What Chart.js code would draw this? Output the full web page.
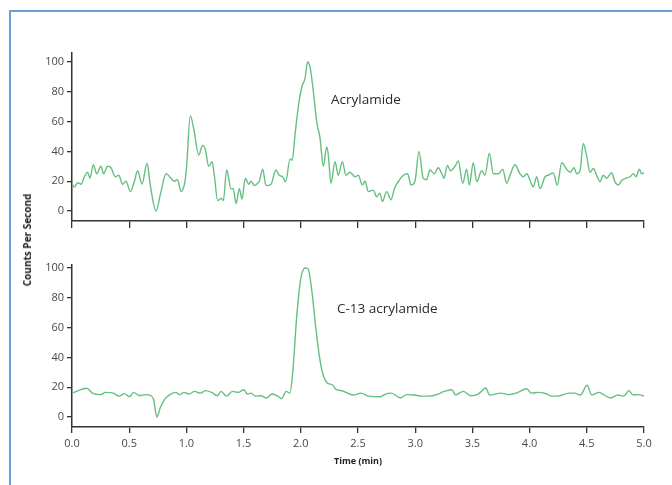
<!DOCTYPE html>
<html>
<head>
<meta charset="utf-8">
<script src="https://cdn.jsdelivr.net/npm/chart.js@4.4.1/dist/chart.umd.min.js"></script>
<style>
  html, body { margin: 0; padding: 0; background: #ffffff; }
  #wrap { position: relative; width: 672px; height: 485px; overflow: hidden; background: #fff; }
  #frame { position: absolute; left: 9px; top: 10px; right: -5px; bottom: -5px;
           border-left: 2px solid #6a9fd8; border-top: 2px solid #6a9fd8; }
  .cv { position: absolute; left: 0; }
  #ylab { position: absolute; left: 27px; top: 240px; transform: translate(-50%, -50%) rotate(-90deg);
          font-family: "Open Sans", "Noto Sans", sans-serif; font-weight: bold; font-size: 10px;
          color: #222; white-space: nowrap; }
</style>
</head>
<body>
<div id="wrap">
  <div id="frame"></div>
  <canvas id="top" class="cv" width="672" height="240" style="top:0px"></canvas>
  <canvas id="bot" class="cv" width="672" height="245" style="top:240px"></canvas>
  <div id="ylab">Counts Per Second</div>
</div>
<script>
// ---------- data ----------
const xTickValues = [0, 0.5, 1.0, 1.5, 2.0, 2.5, 3.0, 3.5, 4.0, 4.5, 5.0];
const yTickValues = [0, 20, 40, 60, 80, 100];
const yAxisTitle = "Counts Per Second";
const xAxisTitle = "Time (min)";
const topLabel = "Acrylamide";
const bottomLabel = "C-13 acrylamide";

// Acrylamide trace (time in min, counts)
const topTimes = [
  0.00, 0.02, 0.05, 0.08, 0.108, 0.137, 0.157, 0.186, 0.216, 0.253, 0.276, 0.312, 0.341, 0.379, 0.408,
  0.443, 0.472, 0.51, 0.545, 0.574, 0.612, 0.656, 0.685, 0.734, 0.778, 0.822, 0.865, 0.894, 0.923, 0.953,
  0.988, 1.002, 1.034, 1.069, 1.107, 1.142, 1.166, 1.195, 1.224, 1.244, 1.273, 1.302, 1.323, 1.352, 1.39,
  1.41, 1.434, 1.463, 1.486, 1.515, 1.545, 1.565, 1.594, 1.614, 1.637, 1.667, 1.696, 1.74, 1.783, 1.81,
  1.84, 1.868, 1.906, 1.925, 1.949, 1.984, 2.008, 2.037, 2.06, 2.08, 2.11, 2.139, 2.168, 2.197, 2.226,
  2.24, 2.264, 2.299, 2.328, 2.363, 2.395, 2.43, 2.474, 2.503, 2.538, 2.561, 2.59, 2.634, 2.663, 2.692,
  2.713, 2.75, 2.789, 2.818, 2.853, 2.896, 2.934, 2.963, 2.998, 3.033, 3.07, 3.1, 3.129, 3.167, 3.202,
  3.232, 3.252, 3.281, 3.31, 3.348, 3.377, 3.415, 3.45, 3.473, 3.508, 3.538, 3.581, 3.61, 3.648, 3.683,
  3.727, 3.765, 3.8, 3.829, 3.872, 3.916, 3.945, 3.975, 4.003, 4.032, 4.062, 4.091, 4.135, 4.163, 4.207,
  4.242, 4.281, 4.324, 4.353, 4.388, 4.412, 4.441, 4.469, 4.499, 4.528, 4.557, 4.586, 4.615, 4.644, 4.674,
  4.717, 4.746, 4.776, 4.805, 4.843, 4.878, 4.907, 4.93, 4.959, 4.98, 5.0
];
const topCounts = [
  18.6, 16, 19, 18, 23, 26, 22, 31, 25, 30, 25, 30, 29, 23, 24,
  18, 20, 13, 20, 27, 18, 32, 17, 0, 13, 25, 22, 20, 21, 13,
  20, 30, 64, 53, 37.6, 44, 41, 30, 33, 24, 7, 8.5, 7, 27.5, 15,
  15, 5, 15, 8, 22, 18, 20, 17, 18, 20, 28, 17, 18, 27.5, 24,
  23, 19.7, 35, 34, 51, 73, 83, 89, 100, 97, 80, 60, 49, 30, 43,
  38, 18.6, 33, 24, 33, 24, 26, 23, 24, 17.4, 20, 13, 14, 9.6, 12,
  6.3, 13, 7.6, 15, 19.8, 24, 25, 17.4, 20, 40, 22, 21, 27.5, 25, 29,
  25, 22, 30.6, 27, 30, 33.5, 18.6, 28, 17.4, 32.4, 19.7, 27, 24, 38.7, 25,
  25, 28, 18.6, 24, 31, 25, 23, 25, 20.8, 16.3, 23, 15, 23, 24, 25.5,
  17.4, 32.4, 28, 26, 29, 25, 27, 45.4, 37, 26, 28.5, 24, 19.7, 24, 22,
  25.7, 19.7, 17.4, 20.5, 22, 23, 25, 23, 28, 25, 25.7
];

// C-13 acrylamide trace (time in min, counts)
const bottomTimes = [
  0.0, 0.129, 0.179, 0.245, 0.295, 0.361, 0.411, 0.46, 0.503, 0.536, 0.592, 0.642, 0.691, 0.714, 0.741,
  0.774, 0.814, 0.857, 0.906, 0.94, 0.979, 1.022, 1.072, 1.121, 1.171, 1.22, 1.27, 1.303, 1.352, 1.402,
  1.452, 1.502, 1.534, 1.567, 1.6, 1.65, 1.7, 1.749, 1.799, 1.832, 1.872, 1.905, 1.931, 1.964, 1.997,
  2.037, 2.063, 2.096, 2.13, 2.163, 2.196, 2.229, 2.278, 2.311, 2.361, 2.46, 2.526, 2.593, 2.691, 2.741,
  2.791, 2.873, 2.923, 2.99, 3.055, 3.121, 3.187, 3.253, 3.32, 3.353, 3.419, 3.485, 3.551, 3.617, 3.65,
  3.749, 3.816, 3.882, 3.975, 4.014, 4.08, 4.146, 4.196, 4.246, 4.345, 4.394, 4.444, 4.503, 4.543, 4.609,
  4.642, 4.708, 4.774, 4.824, 4.867, 4.907, 4.956, 5.0
];
const bottomCounts = [
  16, 19.3, 16, 15, 16.5, 16, 14, 15.7, 13.6, 16.5, 14.3, 15, 14.3, 11.6, 0,
  6.7, 12.3, 15, 16.5, 15, 16.5, 15.4, 17.2, 16, 17.7, 16.5, 14.3, 17.2, 14, 17.2,
  16.5, 18.3, 15.4, 16, 14, 14.3, 12.8, 15.4, 14, 12.3, 17.2, 16, 31.5, 67, 91.5,
  100, 99.5, 85, 60.6, 40.5, 28, 23, 21.5, 18.3, 17.6, 14.8, 16, 14, 13.6, 15.4,
  16, 12.8, 15, 14.8, 14, 14, 15, 17.2, 18.3, 14.8, 17.2, 14.3, 15.4, 19.5, 14.8,
  16, 15, 16, 19, 16, 16.5, 15.6, 14, 14, 16, 16, 14.8, 21.3, 14.8, 16.5,
  15.2, 12.8, 14.8, 14, 17.7, 14.8, 15, 14
];

// ---------- chart construction ----------
const FONT = '"Open Sans", "Noto Sans", sans-serif';
const AXIS = '#333333';
const LINE = '#66bf80';

function pts(xs, ys) { return xs.map((x, i) => ({ x: x, y: ys[i] })); }

function labelPlugin(text, tx, ty) {
  return {
    id: 'peakLabel',
    afterDatasetsDraw(chart) {
      const ctx = chart.ctx;
      const px = chart.scales.x.getPixelForValue(tx);
      const py = chart.scales.y.getPixelForValue(ty);
      ctx.save();
      ctx.font = '13.5px ' + FONT;
      ctx.fillStyle = '#2b2b2b';
      ctx.textAlign = 'left';
      ctx.textBaseline = 'middle';
      ctx.fillText(text, px, py);
      ctx.restore();
    }
  };
}

function makeChart(id, xs, ys, opts) {
  return new Chart(document.getElementById(id), {
    type: 'line',
    data: { datasets: [{
      data: pts(xs, ys),
      borderColor: LINE,
      borderWidth: 1.4,
      pointRadius: 0,
      fill: false,
      cubicInterpolationMode: 'monotone',
      tension: 0.4
    }]},
    options: {
      responsive: false,
      animation: false,
      devicePixelRatio: 1,
      layout: { padding: { left: 0, right: 28, top: opts.padTop, bottom: 0 } },
      plugins: { legend: { display: false }, tooltip: { enabled: false } },
      scales: {
        x: {
          type: 'linear',
          min: 0, max: 5,
          afterBuildTicks: s => { s.ticks = xTickValues.map(v => ({ value: v })); },
          afterFit: s => { s.height = opts.xHeight; },
          border: { display: true, color: AXIS, width: 1.5 },
          grid: { drawOnChartArea: false, drawTicks: true, tickLength: opts.xTickLen, color: AXIS, lineWidth: 1.3 },
          ticks: {
            padding: 4,
            color: '#4a4a4a',
            font: { family: FONT, size: 11 },
            maxRotation: 0,
            autoSkip: false,
            callback: v => opts.showXLabels ? Number(v).toFixed(1) : ''
          },
          title: opts.showXLabels ? {
            display: true, text: xAxisTitle, color: '#222',
            font: { family: FONT, size: 9, weight: 'bold' },
            padding: { top: 0, bottom: 18.6 }
          } : { display: false }
        },
        y: {
          type: 'linear',
          min: -6.7, max: opts.yMax,
          afterBuildTicks: s => { s.ticks = yTickValues.map(v => ({ value: v })); },
          afterFit: s => { s.width = 72; },
          border: { display: true, color: AXIS, width: 1.5 },
          grid: { drawOnChartArea: false, drawTicks: true, tickLength: 5, color: AXIS, lineWidth: 1.3 },
          ticks: {
            padding: 3,
            color: '#4a4a4a',
            font: { family: FONT, size: 11 },
            autoSkip: false
          }
        }
      }
    },
    plugins: [labelPlugin(opts.label, opts.labelX, opts.labelY)]
  });
}

makeChart('top', topTimes, topCounts, {
  padTop: 53, xHeight: 19, xTickLen: 7, showXLabels: false, yMax: 106,
  label: topLabel, labelX: 2.264, labelY: 74.5
});
makeChart('bot', bottomTimes, bottomCounts, {
  padTop: 25, xHeight: 58, xTickLen: 6, showXLabels: true, yMax: 102,
  label: bottomLabel, labelX: 2.316, labelY: 72.5
});
</script>
</body>
</html>
